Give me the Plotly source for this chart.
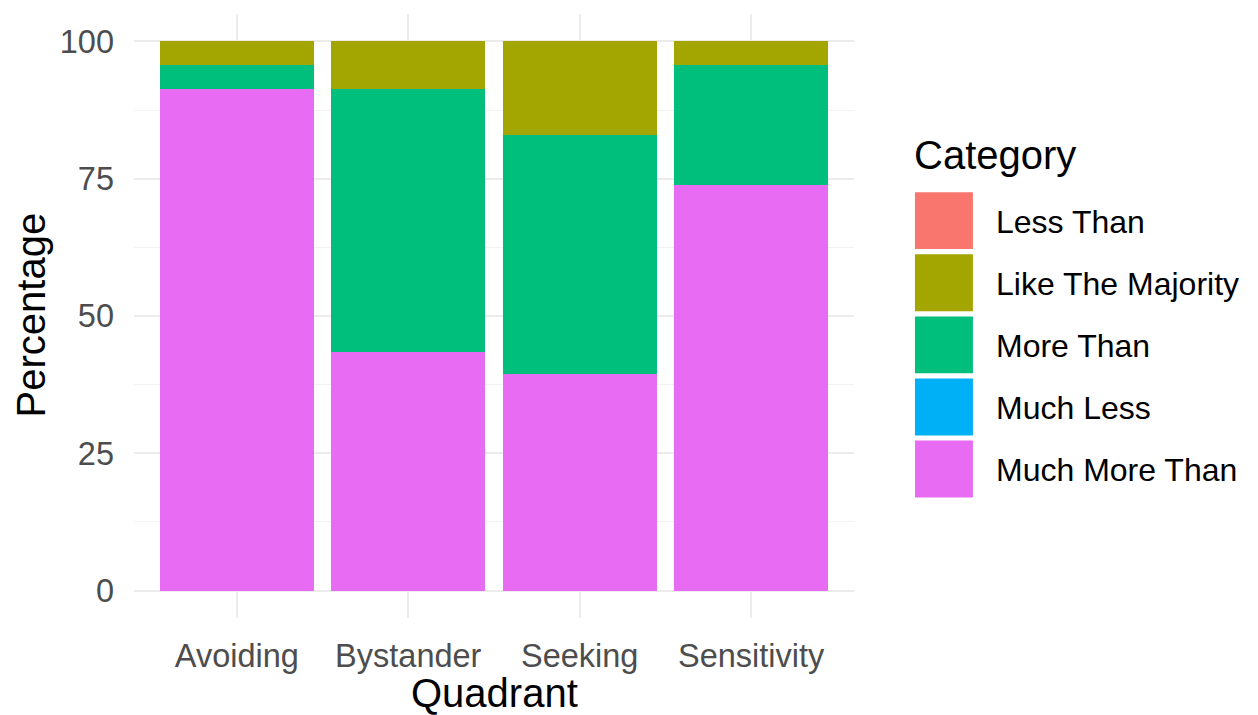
import plotly.graph_objects as go

quadrants = ["Avoiding", "Bystander", "Seeking", "Sensitivity"]
categories = ["Less Than", "Like The Majority", "More Than", "Much Less", "Much More Than"]
colors = ["#F8766D", "#A3A500", "#00BF7D", "#00B0F6", "#E76BF3"]

less_than = [0.0, 0.0, 0.0, 0.0]
like_majority = [4.35, 8.70, 17.0, 4.35]
more_than = [4.35, 47.83, 43.5, 21.74]
much_less = [0.0, 0.0, 0.0, 0.0]
much_more_than = [91.30, 43.47, 39.5, 73.91]

series = {
    "Less Than": less_than,
    "Like The Majority": like_majority,
    "More Than": more_than,
    "Much Less": much_less,
    "Much More Than": much_more_than,
}
y_ticks = [0, 25, 50, 75, 100]

OFF = 8  # page body margin
W, H = 1258 - OFF, 715 - OFF
# plot area in reference pixel coordinates
L, R, T, B = 133.6, 854.0, 13.5, 618.5
FONT = "Liberation Sans, Arial, sans-serif"

def px(x):
    return (x - L) / (R - L)

def py(y):
    return (B - y) / (B - T)

fig = go.Figure()
# ggplot stacks the first level on top: add in reverse order
for cat in reversed(categories):
    fig.add_trace(go.Bar(
        x=quadrants, y=series[cat], name=cat,
        marker=dict(color=colors[categories.index(cat)], line=dict(width=0)),
        width=0.9, showlegend=False,
    ))

fig.update_layout(
    width=W, height=H, autosize=False,
    margin=dict(l=L - OFF, r=1258 - R, t=T - OFF, b=715 - B, pad=0),
    barmode="stack",
    plot_bgcolor="white", paper_bgcolor="white",
    font=dict(family=FONT, color="#4D4D4D"),
    xaxis=dict(
        range=[-0.6, 3.6], showgrid=True, gridcolor="#EBEBEB", gridwidth=2,
        zeroline=False, showline=False, ticks="", tickfont=dict(size=32.5, color="#4D4D4D"),
        ticklabelstandoff=15,
    ),
    yaxis=dict(
        range=[-5, 105], tickvals=y_ticks, showgrid=True, gridcolor="#EBEBEB", gridwidth=2,
        minor=dict(tickvals=[12.5, 37.5, 62.5, 87.5], showgrid=True, gridcolor="#F2F2F2", gridwidth=1),
        zeroline=False, showline=False, ticks="", tickfont=dict(size=32.5, color="#4D4D4D"),
        ticklabelstandoff=19,
    ),
)

ann = []
ann.append(dict(text="Quadrant", x=px((L + R) / 2), y=py(694), xref="paper", yref="paper",
                showarrow=False, xanchor="center", yanchor="middle",
                font=dict(size=40, color="black", family=FONT)))
ann.append(dict(text="Percentage", x=px(31), y=py(315), xref="paper", yref="paper",
                showarrow=False, xanchor="center", yanchor="middle", textangle=-90,
                font=dict(size=40, color="black", family=FONT)))
ann.append(dict(text="Category", x=px(912), y=py(155), xref="paper", yref="paper",
                showarrow=False, xanchor="left", yanchor="middle",
                font=dict(size=40, color="black", family=FONT)))

shapes = []
row0, step = 220.5, 62.2
for i, cat in enumerate(categories):
    cy = row0 + i * step
    shapes.append(dict(type="rect", xref="paper", yref="paper",
                       x0=px(915), x1=px(973), y0=py(cy - 28.5), y1=py(cy + 28.5),
                       fillcolor=colors[i], line=dict(width=0)))
    ann.append(dict(text=cat, x=px(994), y=py(cy + 1), xref="paper", yref="paper",
                    showarrow=False, xanchor="left", yanchor="middle",
                    font=dict(size=32, color="black", family=FONT)))

fig.update_layout(annotations=ann, shapes=shapes)
fig.write_html("out.html")
